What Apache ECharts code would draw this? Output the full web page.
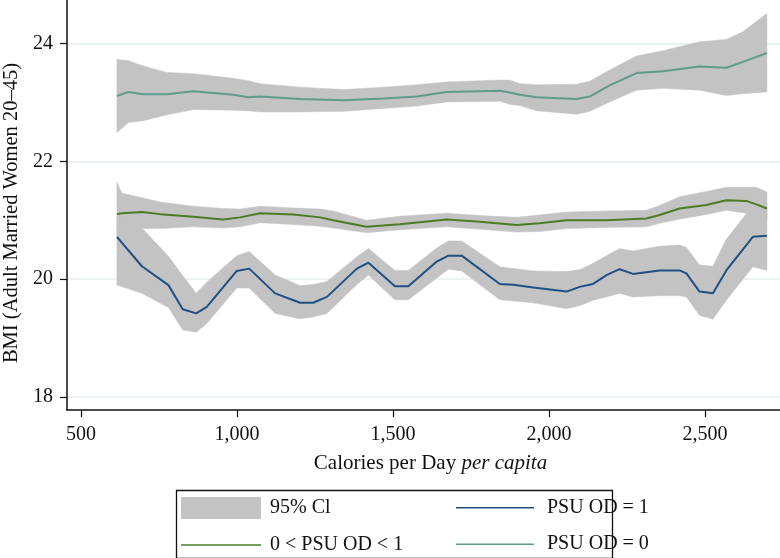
<!DOCTYPE html>
<html><head><meta charset="utf-8">
<script src="https://cdn.jsdelivr.net/npm/echarts@6/dist/echarts.min.js"></script>
<style>html,body{margin:0;padding:0;background:#fff}#c{width:780px;height:558px}</style>
</head><body><div id="c"></div>
<script>
// ---- data ----
const xTicks = [500, 1000, 1500, 2000, 2500];
const yTicks = [18, 20, 22, 24];

// PSU OD = 0
const psu0X = [615, 652, 700, 775, 860, 988, 1036, 1074, 1202, 1341, 1469, 1576, 1672, 1842, 1874, 1906, 1960, 2088, 2130, 2194, 2280, 2365, 2482, 2568, 2621, 2698];
const psu0Y = [23.11, 23.18, 23.14, 23.14, 23.19, 23.13, 23.09, 23.10, 23.06, 23.04, 23.07, 23.10, 23.18, 23.20, 23.17, 23.13, 23.09, 23.06, 23.10, 23.29, 23.50, 23.53, 23.61, 23.59, 23.69, 23.84];
const psu0Lo = [22.49, 22.66, 22.69, 22.79, 22.88, 22.87, 22.86, 22.84, 22.84, 22.85, 22.90, 22.94, 23.01, 23.02, 22.97, 22.95, 22.86, 22.80, 22.85, 23.01, 23.21, 23.24, 23.21, 23.12, 23.15, 23.18];
const psu0Hi = [23.73, 23.71, 23.62, 23.51, 23.49, 23.41, 23.37, 23.32, 23.26, 23.22, 23.26, 23.30, 23.35, 23.38, 23.38, 23.32, 23.30, 23.31, 23.36, 23.55, 23.79, 23.88, 24.03, 24.07, 24.20, 24.51];

// 0 < PSU OD < 1
const psuMidX = [615, 631, 695, 754, 860, 955, 1010, 1074, 1180, 1266, 1308, 1415, 1522, 1672, 1778, 1896, 1970, 2056, 2184, 2312, 2354, 2418, 2504, 2568, 2632, 2664, 2698];
const psuMidY = [21.105, 21.12, 21.14, 21.105, 21.06, 21.015, 21.05, 21.12, 21.10, 21.05, 21.00, 20.89, 20.935, 21.015, 20.975, 20.92, 20.95, 21.00, 21.00, 21.03, 21.09, 21.20, 21.26, 21.34, 21.33, 21.27, 21.20];
const psuMidLo = [20.80, 20.82, 20.86, 20.86, 20.89, 20.87, 20.89, 20.96, 20.93, 20.90, 20.87, 20.79, 20.84, 20.89, 20.85, 20.80, 20.81, 20.86, 20.88, 20.89, 20.95, 21.02, 21.10, 21.17, 21.12, 21.06, 21.00];
const psuMidHi = [21.65, 21.46, 21.385, 21.31, 21.24, 21.20, 21.19, 21.24, 21.21, 21.19, 21.16, 21.00, 21.07, 21.12, 21.08, 21.05, 21.09, 21.14, 21.16, 21.17, 21.25, 21.40, 21.49, 21.56, 21.56, 21.56, 21.48];

// PSU OD = 1
const psu1X = [615, 695, 780, 826, 869, 903, 999, 1039, 1122, 1202, 1244, 1288, 1384, 1421, 1506, 1549, 1640, 1677, 1720, 1842, 1885, 1949, 2056, 2098, 2141, 2184, 2226, 2269, 2354, 2418, 2440, 2482, 2525, 2568, 2653, 2698];
const psu1Y = [20.72, 20.22, 19.90, 19.49, 19.42, 19.53, 20.14, 20.18, 19.76, 19.60, 19.60, 19.70, 20.18, 20.28, 19.88, 19.88, 20.30, 20.40, 20.40, 19.92, 19.905, 19.86, 19.79, 19.87, 19.92, 20.07, 20.17, 20.09, 20.15, 20.15, 20.10, 19.79, 19.76, 20.15, 20.72, 20.74];
const psu1Lo = [19.90, 19.76, 19.52, 19.14, 19.10, 19.25, 19.85, 19.85, 19.42, 19.33, 19.36, 19.42, 19.91, 20.07, 19.65, 19.65, 20.02, 20.17, 20.14, 19.65, 19.63, 19.60, 19.50, 19.55, 19.645, 19.70, 19.76, 19.70, 19.72, 19.72, 19.70, 19.39, 19.32, 19.645, 20.21, 20.15];
const psu1Hi = [21.00, 20.87, 20.39, 20.06, 19.76, 19.95, 20.40, 20.47, 20.07, 19.89, 19.91, 19.96, 20.38, 20.52, 20.15, 20.15, 20.53, 20.65, 20.65, 20.21, 20.18, 20.14, 20.13, 20.16, 20.27, 20.40, 20.52, 20.48, 20.56, 20.58, 20.54, 20.24, 20.22, 20.68, 21.25, 21.30];

// ---- chart ----
const FONT = '"Liberation Serif", "Times New Roman", serif';
const GRAY = '#c3c3c3';
const C_BLUE = '#1f4f85';
const C_GREEN = '#4d7b24';
const C_TEAL = '#5f9a8b';
const CI_NAME = '95% Cl';
const LINE_ICON = 'path://M0,0 L0.01,0 L0,0.01 Z M0,10.2 L80,10.2 L80,11.8 L0,11.8 Z M80,22 L79.99,22 L80,21.99 Z';

function pairs(xs, ys) { return xs.map((x, i) => [x, ys[i]]); }

function bandSeries(xs, lo, hi) {
  return {
    name: CI_NAME, type: 'custom', z: 1, silent: true,
    data: xs.map((x, i) => [x, lo[i], hi[i]]),
    encode: { x: 0, y: [1, 2] },
    itemStyle: { color: GRAY },
    renderItem: function (params, api) {
      if (params.dataIndex !== 0) return null;
      const pts = [];
      for (let i = 0; i < xs.length; i++) pts.push(api.coord([xs[i], hi[i]]));
      for (let i = xs.length - 1; i >= 0; i--) pts.push(api.coord([xs[i], lo[i]]));
      return { type: 'polygon', shape: { points: pts }, style: { fill: GRAY, stroke: GRAY, lineWidth: 0.5 } };
    }
  };
}

function lineSeries(name, xs, ys, color) {
  return { name, type: 'line', data: pairs(xs, ys), symbol: 'none', z: 3,
    itemStyle: { color }, lineStyle: { color, width: 2 } };
}

const chart = echarts.init(document.getElementById('c'));
chart.setOption({
  animation: false,
  backgroundColor: '#fff',
  textStyle: { fontFamily: FONT },
  grid: { left: 67, right: 0, top: 0, bottom: 148, outerBoundsMode: 'none', containLabel: false },
  xAxis: {
    type: 'value', min: 455, max: 2740,
    name: '{a|Calories per Day }{b|per capita}',
    nameLocation: 'middle', nameGap: 43,
    nameTextStyle: { padding: [0, 0, 0, 14], rich: {
      a: { fontFamily: FONT, fontSize: 21, color: '#111' },
      b: { fontFamily: FONT, fontSize: 21, color: '#111', fontStyle: 'italic' } } },
    axisLine: { lineStyle: { color: '#111', width: 1.5 } },
    axisTick: { show: true, length: 7, lineStyle: { color: '#111', width: 1.2 }, customValues: xTicks },
    axisLabel: { customValues: xTicks, fontFamily: FONT, fontSize: 20, color: '#111', margin: 15,
      formatter: v => String(v).replace(/\B(?=(\d{3})+(?!\d))/g, ',') },
    splitLine: { show: false }
  },
  yAxis: {
    type: 'value', min: 17.78, max: 24.74,
    name: 'BMI (Adult Married Women 20–45)',
    nameLocation: 'middle', nameGap: 45, nameRotate: 90,
    nameTextStyle: { fontFamily: FONT, fontSize: 20.5, color: '#111', padding: [0, 16, 0, 0] },
    axisLine: { show: true, lineStyle: { color: '#111', width: 1.5 } },
    axisTick: { show: true, length: 7, lineStyle: { color: '#111', width: 1.2 }, customValues: yTicks },
    axisLabel: { customValues: yTicks, fontFamily: FONT, fontSize: 20, color: '#111', margin: 14 },
    splitLine: { show: true, lineStyle: { color: '#e6eeee', width: 1.5 } }
  },
  legend: [
    { orient: 'vertical', left: 181, top: 497, padding: 0, itemWidth: 80, itemHeight: 22, itemGap: 15,
      selectedMode: false,
      textStyle: { fontFamily: FONT, fontSize: 20, color: '#111', padding: [0, 0, 0, 4] },
      data: [
        { name: CI_NAME, icon: 'rect', itemStyle: { color: GRAY } },
        { name: '0 < PSU OD < 1', icon: LINE_ICON, itemStyle: { color: C_GREEN } }
      ] },
    { orient: 'vertical', left: 456, top: 497, padding: 0, itemWidth: 78, itemHeight: 22, itemGap: 15,
      selectedMode: false,
      textStyle: { fontFamily: FONT, fontSize: 20, color: '#111', padding: [0, 0, 0, 8] },
      data: [
        { name: 'PSU OD = 1', icon: LINE_ICON, itemStyle: { color: C_BLUE } },
        { name: 'PSU OD = 0', icon: LINE_ICON, itemStyle: { color: C_TEAL } }
      ] }
  ],
  graphic: [{ type: 'rect', left: 174, top: 488, shape: { width: 436, height: 68 },
    style: { fill: 'none', stroke: '#111', lineWidth: 1.3 } }],
  series: [
    bandSeries(psu0X, psu0Lo, psu0Hi),
    bandSeries(psuMidX, psuMidLo, psuMidHi),
    bandSeries(psu1X, psu1Lo, psu1Hi),
    lineSeries('PSU OD = 1', psu1X, psu1Y, C_BLUE),
    lineSeries('0 < PSU OD < 1', psuMidX, psuMidY, C_GREEN),
    lineSeries('PSU OD = 0', psu0X, psu0Y, C_TEAL)
  ]
});
</script>
</body></html>
